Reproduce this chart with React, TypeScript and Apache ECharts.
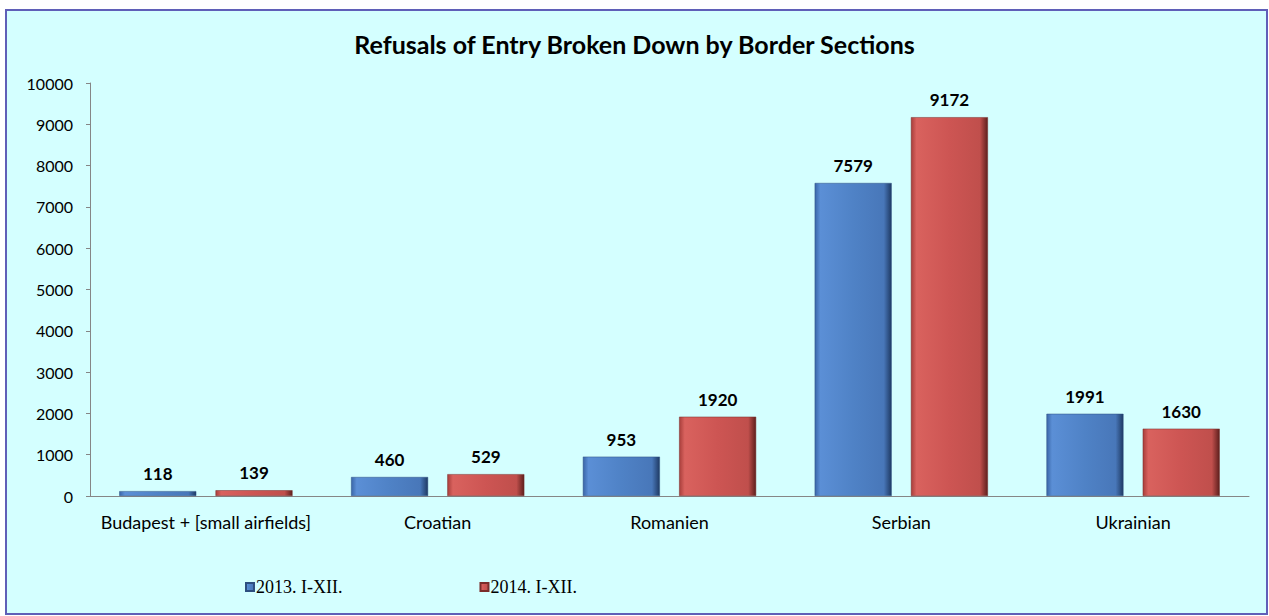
import React, { useEffect, useRef } from "react";
import * as echarts from "echarts";

const categories = ["Budapest + [small airfields]", "Croatian", "Romanien", "Serbian", "Ukrainian"];
const series2013 = [118, 460, 953, 7579, 1991];
const series2014 = [139, 529, 1920, 9172, 1630];
const seriesNames = ["2013. I-XII.", "2014. I-XII."];

const blueGrad = new echarts.graphic.LinearGradient(0, 0, 1, 0, [
  { offset: 0, color: "#3a66a8" },
  { offset: 0.07, color: "#5b8fd6" },
  { offset: 0.5, color: "#4f82c6" },
  { offset: 0.9, color: "#4877b9" },
  { offset: 1, color: "#1f3a64" },
]);
const redGrad = new echarts.graphic.LinearGradient(0, 0, 1, 0, [
  { offset: 0, color: "#a83e3b" },
  { offset: 0.07, color: "#d9625e" },
  { offset: 0.5, color: "#cd5553" },
  { offset: 0.9, color: "#c04f4c" },
  { offset: 1, color: "#5e1f1d" },
]);

export default function App() {
  const ref = useRef<HTMLDivElement>(null);
  useEffect(() => {
    document.body.style.margin = "0";
    const chart = echarts.init(ref.current!, undefined, { renderer: "svg" });
    const labelStyle = {
      show: true,
      position: "top" as const,
      distance: 9,
      fontFamily: "Lato, 'Open Sans', sans-serif",
      fontWeight: "bold" as const,
      fontSize: 17,
      color: "#000",
    };
    chart.setOption({
      animation: false,
      backgroundColor: "#ffffff",
      graphic: [
        {
          type: "rect",
          shape: { x: 6, y: 10, width: 1261, height: 604 },
          style: { fill: "#d4ffff", stroke: "#5f5fb8", lineWidth: 2 },
          z: -10,
          silent: true,
        },
      ],
      title: {
        text: "Refusals of Entry Broken Down by Border Sections",
        left: "center",
        top: 26,
        textStyle: {
          fontFamily: "Lato, 'Open Sans', sans-serif",
          fontWeight: "bold",
          fontSize: 25,
          color: "#000",
        },
      },
      legend: {
        data: seriesNames,
        left: 245,
        top: 578,
        padding: 0,
        itemWidth: 8,
        itemHeight: 8,
        itemGap: 137,
        icon: "rect",
        textStyle: {
          fontFamily: "'Liberation Serif', 'Times New Roman', serif",
          fontSize: 18,
          color: "#000",
          padding: [0, 0, 0, -3],
        },
      },
      grid: { left: 90, right: 20, top: 83, bottom: 120, containLabel: false },
      xAxis: {
        type: "category",
        data: categories,
        axisLine: { lineStyle: { color: "#868686", width: 1 } },
        axisTick: { show: false },
        axisLabel: {
          interval: 0,
          fontFamily: "Lato, 'Open Sans', sans-serif",
          fontSize: 18,
          color: "#000",
          margin: 17,
        },
      },
      yAxis: {
        type: "value",
        min: 0,
        max: 10000,
        interval: 1000,
        axisLine: { show: true, lineStyle: { color: "#868686", width: 1 } },
        axisTick: { show: true, length: 4, lineStyle: { color: "#868686" } },
        splitLine: { show: false },
        axisLabel: {
          fontFamily: "Lato, 'Open Sans', sans-serif",
          fontSize: 16,
          color: "#000",
          margin: 17,
          formatter: (v: number) => String(v),
        },
      },
      series: [
        {
          name: seriesNames[0],
          type: "bar",
          data: series2013,
          barWidth: 77,
          barGap: "25%",
          itemStyle: { color: blueGrad, borderColor: "#2d4f80", borderWidth: 0.5 },
          label: labelStyle,
        },
        {
          name: seriesNames[1],
          type: "bar",
          data: series2014,
          barWidth: 77,
          barGap: "25%",
          itemStyle: { color: redGrad, borderColor: "#7a2c2a", borderWidth: 0.5 },
          label: labelStyle,
        },
      ],
      color: ["#4f81bd", "#c0504d"],
    });
    return () => chart.dispose();
  }, []);
  return <div ref={ref} style={{ width: 1269, height: 616 }} />;
}
